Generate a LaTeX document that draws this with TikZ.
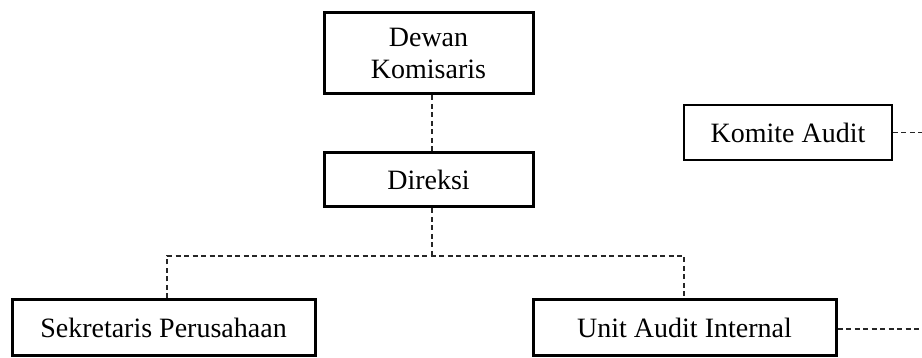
\documentclass[tikz,border=0pt]{standalone}
\usepackage{fontspec}
\setmainfont{Liberation Serif}
\begin{document}
\begin{tikzpicture}[x=1pt,y=-1pt,
  unitbox/.style={draw=black,line width=3pt,fill=white,inner sep=0pt,align=center,
    font=\fontsize{28}{32}\selectfont},
  sidebox/.style={unitbox,line width=1.6pt},
  link/.style={draw=black!85,line width=1.6pt,dash pattern=on 5pt off 3.5pt}]
  \useasboundingbox (0,0) rectangle (922,358);
  % boxes
  \node[unitbox,minimum width=209pt,minimum height=81pt] (dewan) at (428.5,53.5) {Dewan\\Komisaris};
  \node[unitbox,minimum width=209pt,minimum height=54pt] (direksi) at (428.5,180) {Direksi};
  \node[sidebox,minimum width=208pt,minimum height=55pt] (komite) at (788,132.5) {Komite Audit};
  \node[unitbox,minimum width=303pt,minimum height=56pt] (sekretaris) at (163.5,328) {Sekretaris Perusahaan};
  \node[unitbox,minimum width=303pt,minimum height=56pt] (unit) at (684.5,328) {Unit Audit Internal};
  % branch points
  \coordinate (bus) at (432,256);
  \coordinate (busL) at (167,256);
  \coordinate (busR) at (684,256);
  \coordinate (outK) at (922,132.5);
  \coordinate (outU) at (922,329);
  % connectors
  \draw[link] (dewan.south -| bus) -- (direksi.north -| bus);
  \draw[link] (direksi.south -| bus) -- (bus);
  \draw[link] (sekretaris.north -| busL) -- (busL) -- (busR) -- (unit.north -| busR);
  \draw[link] (komite.east) -- (outK);
  \draw[link] (unit.east |- outU) -- (outU);
\end{tikzpicture}
\end{document}
